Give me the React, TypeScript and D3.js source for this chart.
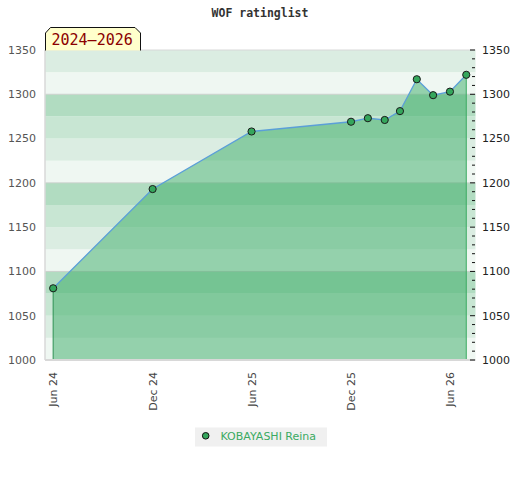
import * as d3 from 'd3';

// rating history
const dates = ["2024-06-01", "2024-12-01", "2025-06-01", "2025-12-01", "2026-01-01", "2026-02-01",
  "2026-03-01", "2026-04-01", "2026-05-01", "2026-06-01", "2026-07-01"];
const ratings = [1081, 1193, 1258, 1269, 1273, 1271, 1281, 1317, 1299, 1303, 1322];

const xTickDates = ["2024-06-01", "2024-12-01", "2025-06-01", "2025-12-01", "2026-06-01"];
const xTickLabels = ["Jun 24", "Dec 24", "Jun 25", "Dec 25", "Jun 26"];
const yTicks = [1000, 1050, 1100, 1150, 1200, 1250, 1300, 1350];

const playerName = "KOBAYASHI Reina";
const title = "WOF ratinglist";
const period = "2024–2026";

const bandColors = ["#eff7f2", "#dbede2", "#c8e6d3", "#b1dcc1"];

const App = () => {
  const width = 520, height = 480;
  const m = { top: 50, left: 45, right: 475.5, bottom: 360 };

  const parse = d3.timeParse("%Y-%m-%d");
  const pts = dates.map((d, i) => ({ date: parse(d)!, v: ratings[i] }));

  const x = d3.scaleTime()
    .domain([parse("2024-05-17")!, parse("2026-07-18")!])
    .range([m.left, m.right]);
  const y = d3.scaleLinear().domain([1000, 1350]).range([m.bottom, m.top]);

  const line = d3.line<any>().x(d => x(d.date)).y(d => y(d.v));
  const area = d3.area<any>().x(d => x(d.date)).y0(y(1000)).y1(d => y(d.v));

  const bands = d3.range(1000, 1350, 25);
  const minor = d3.range(1010, 1350, 10).filter(v => v % 50 !== 0);
  const first = pts[0], last = pts[pts.length - 1];

  return (
    <svg width={width} height={height} style={{ position: 'absolute', left: 0, top: 0, background: '#fff' }}
      fontFamily="DejaVu Sans">
      <text x={260} y={17} textAnchor="middle" fontFamily="DejaVu Sans Mono" fontWeight="bold"
        fontSize={11.5} fill="#333">{title}</text>

      {bands.map((b, i) => (
        <rect key={b} x={m.left} width={m.right - m.left} y={y(b + 25)} height={y(b) - y(b + 25)}
          fill={bandColors[i % 4]} />
      ))}
      {[1100, 1200, 1300].map(v => (
        <line key={v} x1={m.left} x2={m.right} y1={y(v)} y2={y(v)} stroke="#c8d0cb" strokeWidth={1} />
      ))}

      <path d={area(pts)!} fill="rgb(58,172,102)" fillOpacity={0.5} />
      <line x1={x(first.date)} x2={x(first.date)} y1={y(first.v)} y2={m.bottom} stroke="#2f9155" strokeWidth={1} />
      <line x1={x(last.date)} x2={x(last.date)} y1={y(last.v)} y2={m.bottom} stroke="#3aaa60" strokeWidth={1} />
      <path d={line(pts)!} fill="none" stroke="#5b9fd8" strokeWidth={1.3} />
      {pts.map((p, i) => (
        <circle key={i} cx={x(p.date)} cy={y(p.v)} r={3.6} fill="#35a65c" stroke="#1a1a1a" strokeWidth={1} />
      ))}

      {/* plot frame */}
      <line x1={m.left} x2={m.right} y1={m.top} y2={m.top} stroke="#d8d8d8" />
      <line x1={m.left} x2={m.left} y1={m.top} y2={m.bottom} stroke="#d8d8d8" strokeWidth={1.5} />
      <line x1={m.left} x2={m.right} y1={m.bottom} y2={m.bottom} stroke="#d8d8d8" strokeWidth={2} />

      {/* left axis */}
      {yTicks.map(v => (
        <text key={v} x={36} y={y(v)} dy="0.35em" textAnchor="end" fontSize={11} fill="#555">{v}</text>
      ))}
      {/* right axis */}
      {yTicks.map(v => (
        <g key={v}>
          <line x1={m.right - 5.5} x2={m.right - 0.5} y1={y(v)} y2={y(v)} stroke="#111" />
          <text x={482} y={y(v)} dy="0.35em" fontSize={11} fill="#222">{v}</text>
        </g>
      ))}
      {minor.map(v => (
        <line key={v} x1={m.right - 3.5} x2={m.right - 0.5} y1={y(v)} y2={y(v)} stroke="#111" />
      ))}

      {/* bottom axis */}
      {xTickDates.map((d, i) => {
        const px = x(parse(d)!) + 4;
        return (
          <text key={d} transform={`translate(${px},372) rotate(-90)`} textAnchor="end" fontSize={11} fill="#444">
            {xTickLabels[i]}
          </text>
        );
      })}

      {/* period badge */}
      <path d="M45.5,50.5 V33 L50.5,27.5 H135 L140.5,33 V50.5" fill="#ffffcc" stroke="#111" strokeWidth={1} />
      <text x={51.5} y={45} fontFamily="DejaVu Sans Mono" fontSize={15} fill="#8b0000">{period}</text>

      {/* legend */}
      <rect x={195} y={427.5} width={132} height={19} fill="#f0f0f0" />
      <circle cx={205.7} cy={435.8} r={3.3} fill="#35a65c" stroke="#111" />
      <text x={220.5} y={440} fontSize={11} fill="#3aaa62">{playerName}</text>
    </svg>
  );
};

export default App;
